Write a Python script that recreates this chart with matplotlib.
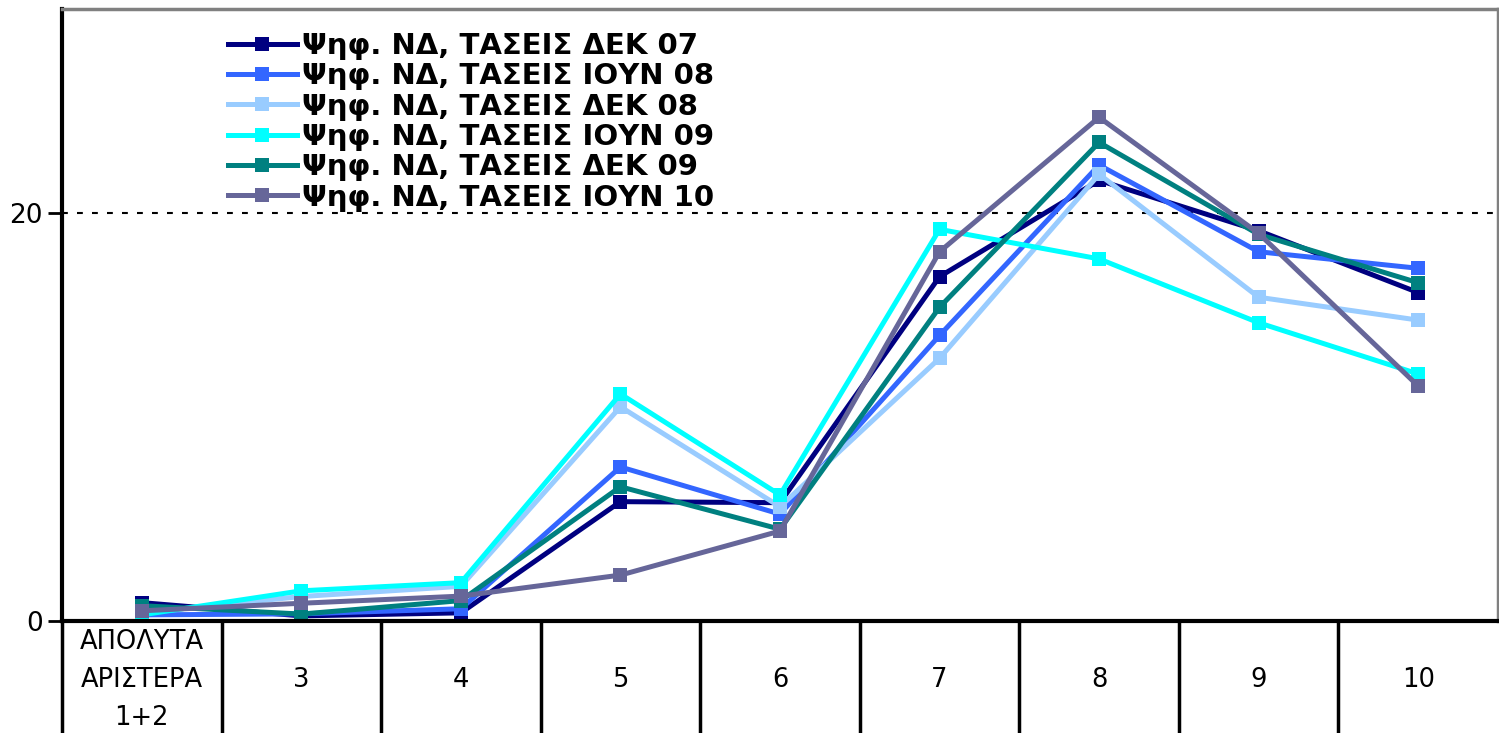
import numpy as np
import matplotlib
matplotlib.use("Agg")
import matplotlib.pyplot as plt
from matplotlib.ticker import MultipleLocator

categories = ["ΑΠΟΛΥΤΑ\nΑΡΙΣΤΕΡΑ\n1+2", "3", "4", "5", "6", "7", "8", "9", "10"]

series_names = [
    "Ψηφ. ΝΔ, ΤΑΣΕΙΣ ΔΕΚ 07",
    "Ψηφ. ΝΔ, ΤΑΣΕΙΣ ΙΟΥΝ 08",
    "Ψηφ. ΝΔ, ΤΑΣΕΙΣ ΔΕΚ 08",
    "Ψηφ. ΝΔ, ΤΑΣΕΙΣ ΙΟΥΝ 09",
    "Ψηφ. ΝΔ, ΤΑΣΕΙΣ ΔΕΚ 09",
    "Ψηφ. ΝΔ, ΤΑΣΕΙΣ ΙΟΥΝ 10",
]

dek07 = [0.9, 0.25, 0.4, 5.85, 5.8, 16.88, 21.6, 19.13, 16.1]
ioun08 = [0.3, 0.35, 0.6, 7.55, 5.24, 14.0, 22.35, 18.1, 17.29]
dek08 = [0.4, 1.2, 1.7, 10.5, 5.6, 12.88, 21.9, 15.87, 14.75]
ioun09 = [0.3, 1.48, 1.88, 11.13, 6.18, 19.2, 17.75, 14.62, 12.11]
dek09 = [0.75, 0.34, 1.0, 6.58, 4.5, 15.38, 23.46, 18.95, 16.58]
ioun10 = [0.5, 0.87, 1.22, 2.25, 4.41, 18.1, 24.69, 19.0, 11.52]

values = [dek07, ioun08, dek08, ioun09, dek09, ioun10]
colors = ["#000080", "#3366FF", "#99CCFF", "#00FFFF", "#008080", "#666699"]

W, H = 1499, 733
fig = plt.figure(figsize=(W / 100, H / 100), dpi=100)
ax = fig.add_axes([62 / W, (H - 621) / H, (1498 - 62) / W, (621 - 9) / H])

x = np.arange(len(categories))
for name, vals, c in zip(series_names, values, colors):
    ax.plot(x, vals, color=c, lw=3.6, marker="s", markersize=10,
            markeredgewidth=0, label=name, solid_joinstyle="miter")

ax.set_xlim(-0.5, len(categories) - 0.5)
ax.set_ylim(0, 30)
ax.yaxis.set_major_locator(MultipleLocator(20))
ax.yaxis.grid(True, color="black", lw=1.5, dashes=(2.8, 4.4))
ax.set_axisbelow(True)

ax.set_xticks(x)
ax.set_xticklabels(categories, fontsize=18.5, linespacing=1.58)
ax.tick_params(axis="x", length=0, pad=42.5)
for lbl in ax.get_xticklabels():
    lbl.set_va("center")
ax.tick_params(axis="y", labelsize=19, direction="out", length=10, width=2, pad=4)

for s in ["top", "right"]:
    ax.spines[s].set_color("#808080")
    ax.spines[s].set_linewidth(2.5)
for s in ["left", "bottom"]:
    ax.spines[s].set_color("black")
    ax.spines[s].set_linewidth(3)

# category table separators below the axis
depth = (H - 621) / (621 - 9) * 30
ax.vlines(np.arange(-0.5, len(categories) - 1), 0, -depth, colors="black",
          lw=2.5, clip_on=False)

leg = ax.legend(loc="upper left", bbox_to_anchor=((228 - 62) / 1436, (621 - 32) / 612),
                frameon=False, borderpad=0, borderaxespad=0, handlelength=2.35,
                handletextpad=0.2, labelspacing=0.08,
                prop={"weight": "bold", "size": 21})

fig.savefig("out.png", dpi=100)
